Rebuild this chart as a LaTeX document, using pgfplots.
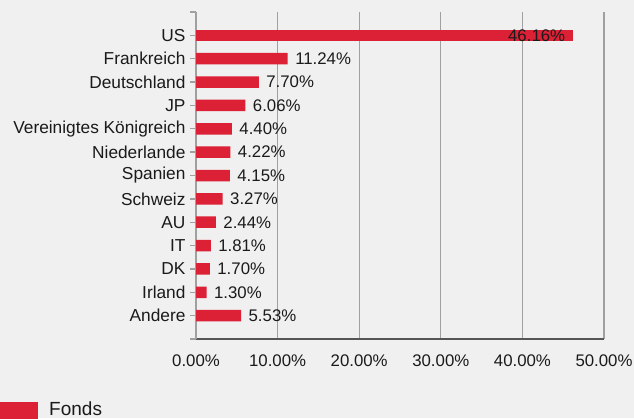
\documentclass[border=0pt]{standalone}
\usepackage{pgfplots}
\pgfplotsset{compat=1.18}
\usepackage{fontspec}
\setmainfont{Liberation Sans}
\definecolor{bg}{HTML}{F0F0F0}
\definecolor{barred}{HTML}{DC2036}
\definecolor{gridgray}{HTML}{A0A0A0}
\definecolor{axisdark}{HTML}{555555}
\definecolor{txt}{HTML}{1A1A1A}
\begin{document}
\begin{tikzpicture}[x=1pt,y=1pt]
\fill[bg] (0,0) rectangle (634,418);
\useasboundingbox (0,0) rectangle (634,418);
\begin{axis}[
  at={(196pt,79pt)}, anchor=south west,
  scale only axis, width=408pt, height=327pt,
  xmin=0, xmax=50, ymin=-1, ymax=13,
  y dir=reverse,
  xbar, bar width=11.5pt, bar shift=0pt,
  axis x line*=bottom, axis y line*=left,
  x axis line style={axisdark, line width=1.6pt, -},
  y axis line style={gridgray, line width=1.3pt, -},
  /pgf/number format/assume math mode=true,
  xtick={0,10,20,30,40,50},
  xticklabels={0.00\%,10.00\%,20.00\%,30.00\%,40.00\%,50.00\%},
  xtick style={draw=none},
  xticklabel style={font=\fontsize{16.8}{18}\selectfont, text=txt, yshift=-6pt},
  xmajorgrids, major grid style={gridgray, line width=1.3pt},
  ytick={0,...,12},
  extra y ticks={-1,13}, extra y tick labels={},
  extra y tick style={grid=none, tick style={gridgray, line width=1.3pt}},
  yticklabels={US,Frankreich,Deutschland,JP,Vereinigtes Königreich,Niederlande,Spanien,Schweiz,AU,IT,DK,Irland,Andere},
  yticklabel style={font=\fontsize{17.3}{19}\selectfont, text=txt, xshift=-1pt},
  tick align=outside, major tick length=6pt,
  ytick style={gridgray, line width=1.3pt},
  clip=false,
]
\addplot[fill=barred, draw=none, bar shift=0pt,
  nodes near coords={\pgfmathprintnumber[fixed,fixed zerofill,precision=2,assume math mode=true]{\pgfplotspointmeta}\%},
  point meta=explicit,
  nodes near coords style={font=\fontsize{16.8}{18}\selectfont, text=txt, anchor=west, xshift=4pt},
] coordinates {
(11.24,1) [11.24]
(7.70,2) [7.70]
(6.06,3) [6.06]
(4.40,4) [4.40]
(4.22,5) [4.22]
(4.15,6) [4.15]
(3.27,7) [3.27]
(2.44,8) [2.44]
(1.81,9) [1.81]
(1.70,10) [1.70]
(1.30,11) [1.30]
(5.53,12) [5.53]
};
\addplot[fill=barred, draw=none, bar shift=0pt,
  nodes near coords={\pgfmathprintnumber[fixed,fixed zerofill,precision=2,assume math mode=true]{\pgfplotspointmeta}\%},
  point meta=explicit,
  nodes near coords style={font=\fontsize{16.8}{18}\selectfont, text=txt, anchor=east, xshift=-4pt},
] coordinates {
(46.16,0) [46.16]
};
\end{axis}
\fill[barred] (0,-5) rectangle (38.3,16.3);
\node[anchor=base west, inner sep=0pt, font=\fontsize{19}{21}\selectfont, text=txt] at (49,3) {Fonds};
\end{tikzpicture}
\end{document}
